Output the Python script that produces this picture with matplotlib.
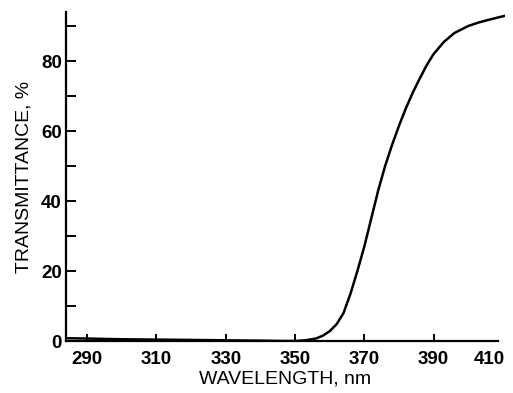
import numpy as np
import matplotlib.pyplot as plt
from matplotlib.transforms import ScaledTranslation

# wavelength (nm) and transmittance (%)
wavelength = [284, 290, 300, 310, 320, 330, 340, 346, 350, 353, 356, 358, 360,
              362, 364, 366, 368, 370, 372, 374, 376, 378, 380, 382, 384, 386,
              388, 390, 393, 396, 400, 403, 406, 410.5]
transmittance = [0.8, 0.7, 0.5, 0.4, 0.3, 0.2, 0.1, 0.0, 0.0, 0.2, 0.7, 1.5, 2.8,
                 4.8, 8.0, 13.5, 20.0, 27.0, 35.0, 43.0, 50.0, 56.0, 61.5, 66.5,
                 71.0, 75.0, 78.8, 82.0, 85.5, 88.0, 90.0, 91.0, 91.8, 92.9]

x_ticks = [290, 310, 330, 350, 370, 390, 410]
y_ticks = [0, 20, 40, 60, 80]
y_minor = [10, 30, 50, 70, 90]

plt.rcParams['font.family'] = ['Liberation Sans', 'DejaVu Sans']

fig = plt.figure(figsize=(5.13, 3.93), dpi=100)
ax = fig.add_axes([66 / 513, 52 / 393, (505 - 66) / 513, (381 - 52) / 393])

ax.plot(wavelength, transmittance, color='black', lw=1.8,
        solid_capstyle='round', solid_joinstyle='round')

ax.set_xlim(283.9, 410.6)
ax.set_ylim(0, 94)

for side in ['top', 'right']:
    ax.spines[side].set_visible(False)
for side in ['left', 'bottom']:
    ax.spines[side].set_linewidth(1.6)
ax.spines['bottom'].set_bounds(283.9, 408.7)

ax.set_xticks(x_ticks)
ax.set_yticks(y_ticks)
ax.set_yticks(y_minor, minor=True)
ax.tick_params(axis='both', which='both', direction='in', width=1.4,
               labelsize=13.5)
ax.tick_params(axis='x', length=5, pad=7)
ax.tick_params(axis='y', which='both', length=7, pad=3)
for lab in ax.get_xticklabels() + ax.get_yticklabels():
    lab.set_fontweight('bold')

# last x tick sits past the end of the drawn axis in the original
last = ax.xaxis.get_major_ticks()[-1]
last.tick1line.set_visible(False)
shift = ScaledTranslation(-14 / 100, 0, fig.dpi_scale_trans)
last.label1.set_transform(last.label1.get_transform() + shift)

ax.set_xlabel('WAVELENGTH, nm', fontsize=14, labelpad=2)
ax.set_ylabel('TRANSMITTANCE, %', fontsize=14, labelpad=6)

fig.savefig('out.png', dpi=100)
